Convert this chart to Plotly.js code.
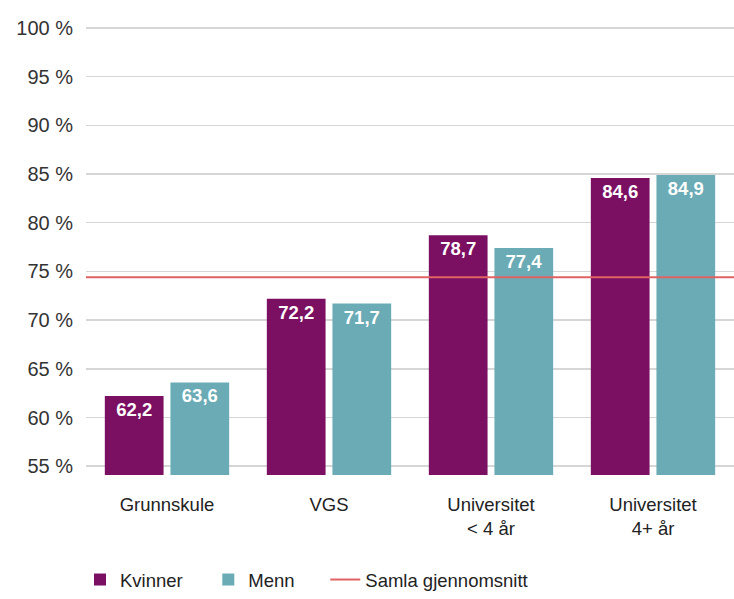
<!DOCTYPE html>
<html><head><meta charset="utf-8">
<script src="https://cdn.plot.ly/plotly-3.0.1.min.js"></script>
<style>html,body{margin:0;padding:0;background:#fff;}#chart{width:734px;height:599px;}</style>
</head><body><div id="chart"></div>
<script>
const categories = ["Grunnskule", "VGS", "Universitet<br>< 4 år", "Universitet<br>4+ år"];
const kvinner = [62.2, 72.2, 78.7, 84.6];
const menn = [63.6, 71.7, 77.4, 84.9];
const snitt = 74.4;
const tickVals = [55, 60, 65, 70, 75, 80, 85, 90, 95, 100];
const tickText = tickVals.map(v => v + " %");
const seriesNames = ["Kvinner", "Menn", "Samla gjennomsnitt"];

const fmt = v => v.toFixed(1).replace(".", ",");
const font = "Liberation Sans, Arial, sans-serif";
const pad = n => "\u00a0".repeat(n);

const traces = [
  {type: "bar", name: seriesNames[0] + pad(4), x: categories, y: kvinner, marker: {color: "#7b1062"},
   text: kvinner.map(fmt), textposition: "inside", insidetextanchor: "end",
   textfont: {color: "#fff", size: 18.5, family: font, weight: "bold"}, hoverinfo: "skip"},
  {type: "bar", name: seriesNames[1] + pad(5), x: categories, y: menn, marker: {color: "#6aabb6"},
   text: menn.map(fmt), textposition: "inside", insidetextanchor: "end",
   textfont: {color: "#fff", size: 18.5, family: font, weight: "bold"}, hoverinfo: "skip"},
  {type: "scatter", mode: "lines", name: seriesNames[2], xaxis: "x2", yaxis: "y",
   x: [0, 1], y: [snitt, snitt], line: {color: "#e06262", width: 2}, hoverinfo: "skip"}
];

const layout = {
  width: 734, height: 599,
  margin: {l: 86, r: 0, t: 23, b: 124},
  paper_bgcolor: "#fff", plot_bgcolor: "#fff",
  font: {family: font, color: "#333", size: 18},
  barmode: "group", bargap: 0.19, bargroupgap: 0.105,
  showlegend: true,
  legend: {orientation: "h", x: 0.109, xanchor: "left", xref: "container",
    y: -0.02, yanchor: "bottom", yref: "container",
    font: {size: 18.5, color: "#222", family: font}, traceorder: "normal",
    itemwidth: 30},
  xaxis: {showgrid: false, zeroline: false, showline: false, ticks: "",
    tickfont: {size: 18.5, color: "#222"}, ticklabelstandoff: 16, fixedrange: true},
  xaxis2: {overlaying: "x", range: [0, 1], visible: false, fixedrange: true},
  yaxis: {range: [54.1, 100.5], tickvals: tickVals, ticktext: tickText,
    showgrid: true, gridcolor: "#d6d6d6", gridwidth: 1.5, zeroline: false, showline: false,
    ticks: "", tickfont: {size: 20, color: "#333"}, ticklabelstandoff: 12, fixedrange: true}
};

Plotly.newPlot("chart", traces, layout, {displayModeBar: false, staticPlot: true});
</script></body></html>
